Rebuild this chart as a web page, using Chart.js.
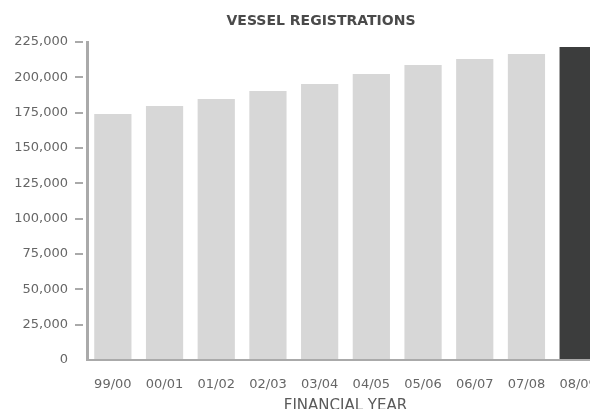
<!DOCTYPE html>
<html>
<head>
<meta charset="utf-8">
<script src="https://cdn.jsdelivr.net/npm/chart.js@4/dist/chart.umd.min.js"></script>
<style>
  html, body { margin: 0; padding: 0; background: #fff; overflow: hidden; }
  #wrap { position: relative; width: 640px; height: 425px; }
  #title {
    position: absolute; left: 0; top: 12px; width: 642px; text-align: center;
    font: bold 14px "DejaVu Sans", sans-serif; color: #4a4a4a; line-height: 17px;
  }
</style>
</head>
<body>
<div id="wrap">
  <div id="title">VESSEL REGISTRATIONS</div>
  <canvas id="chart"></canvas>
</div>
<script>
const years = ['99/00', '00/01', '01/02', '02/03', '03/04', '04/05', '05/06', '06/07', '07/08', '08/09'];
const registrations = [174000, 179700, 184700, 190300, 195300, 202400, 208700, 213000, 216500, 221500];
const yMax = 225000;
const yStep = 25000;

const lightBar = '#d7d7d7';
const darkBar = '#3c3d3d';
const axisGrey = '#aaaaaa';

new Chart(document.getElementById('chart'), {
  type: 'bar',
  data: {
    labels: years,
    datasets: [
      {
        data: registrations,
        backgroundColor: registrations.map((v, i) => (i === registrations.length - 1 ? darkBar : lightBar)),
        borderWidth: 0,
        categoryPercentage: 0.8,
        barPercentage: 0.9,
      },
    ],
  },
  options: {
    responsive: true,
    maintainAspectRatio: false,
    animation: false,
    layout: { padding: { top: 42, right: 36, left: 0, bottom: 0 } },
    plugins: {
      legend: { display: false },
      tooltip: { enabled: false },
      title: { display: false },
    },
    scales: {
      x: {
        grid: { display: false },
        border: { display: true, color: axisGrey, width: 2 },
        ticks: {
          color: '#666',
          padding: 9,
          maxRotation: 0,
          font: { family: 'DejaVu Sans', size: 13 },
        },
        title: {
          display: true,
          text: 'FINANCIAL YEAR',
          color: '#5a5a5a',
          font: { family: 'DejaVu Sans', size: 15, lineHeight: 1 },
          padding: { top: 0, bottom: 11 },
        },
        afterFit: (scale) => {
          scale.height = 65;
        },
      },
      y: {
        min: 0,
        max: yMax,
        grid: {
          drawOnChartArea: false,
          tickLength: 12,
          tickBorderDash: [8, 4],
          color: (ctx) => (ctx.tick && ctx.tick.value === 0 ? 'rgba(0,0,0,0)' : axisGrey),
          lineWidth: 2,
        },
        border: { display: true, color: axisGrey, width: 3 },
        ticks: {
          stepSize: yStep,
          color: '#666',
          padding: 7,
          font: { family: 'DejaVu Sans', size: 13 },
          callback: (v) => new Intl.NumberFormat('en-US').format(v),
        },
        afterFit: (scale) => {
          scale.width = 87;
        },
      },
    },
  },
});
</script>
</body>
</html>
